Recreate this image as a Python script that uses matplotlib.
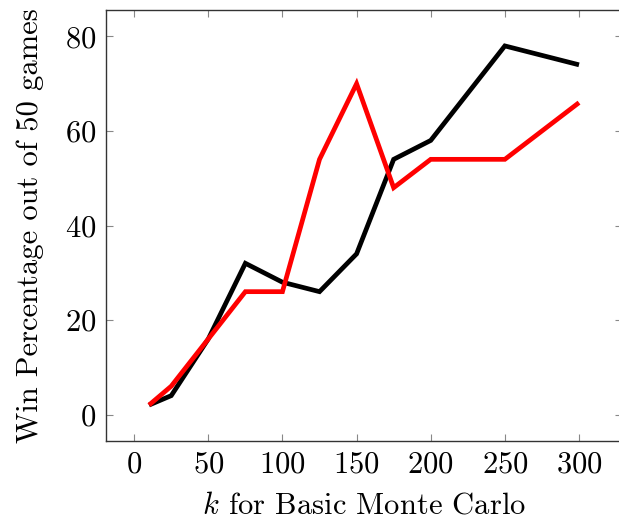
import matplotlib
matplotlib.use("Agg")
import matplotlib.pyplot as plt

plt.rcParams["font.family"] = "cmr10"
plt.rcParams["mathtext.fontset"] = "cm"
plt.rcParams["axes.formatter.use_mathtext"] = True

k_values = [10, 25, 50, 75, 100, 125, 150, 175, 200, 250, 300]
black_wins = [2, 4, 16, 32, 28, 26, 34, 54, 58, 78, 74]
red_wins = [2, 6, 16, 26, 26, 54, 70, 48, 54, 54, 66]
x_ticks = [0, 50, 100, 150, 200, 250, 300]
y_ticks = [0, 20, 40, 60, 80]

fig = plt.figure(figsize=(6.19, 5.23), dpi=100)
ax = fig.add_axes([106 / 619, 82 / 523, 516 / 619, 431 / 523])

ax.plot(k_values, black_wins, color="black", lw=3.4, solid_joinstyle="miter", solid_capstyle="butt")
ax.plot(k_values, red_wins, color="#ff0000", lw=3.4, solid_joinstyle="miter", solid_capstyle="butt")

ax.set_xlim(-19, 329)
ax.set_ylim(-5.6, 85.6)
ax.set_xticks(x_ticks)
ax.set_yticks(y_ticks)
ax.tick_params(direction="in", top=True, right=True, length=5, width=0.8,
               color="#888888", labelsize=22, pad=7)
for s in ax.spines.values():
    s.set_linewidth(1.0)
    s.set_color("#333333")

ax.set_xlabel("$k$ for Basic Monte Carlo", fontsize=22, labelpad=10)
ax.set_ylabel("Win Percentage out of 50 games", fontsize=22, labelpad=15)

fig.savefig("out.png", dpi=100)
